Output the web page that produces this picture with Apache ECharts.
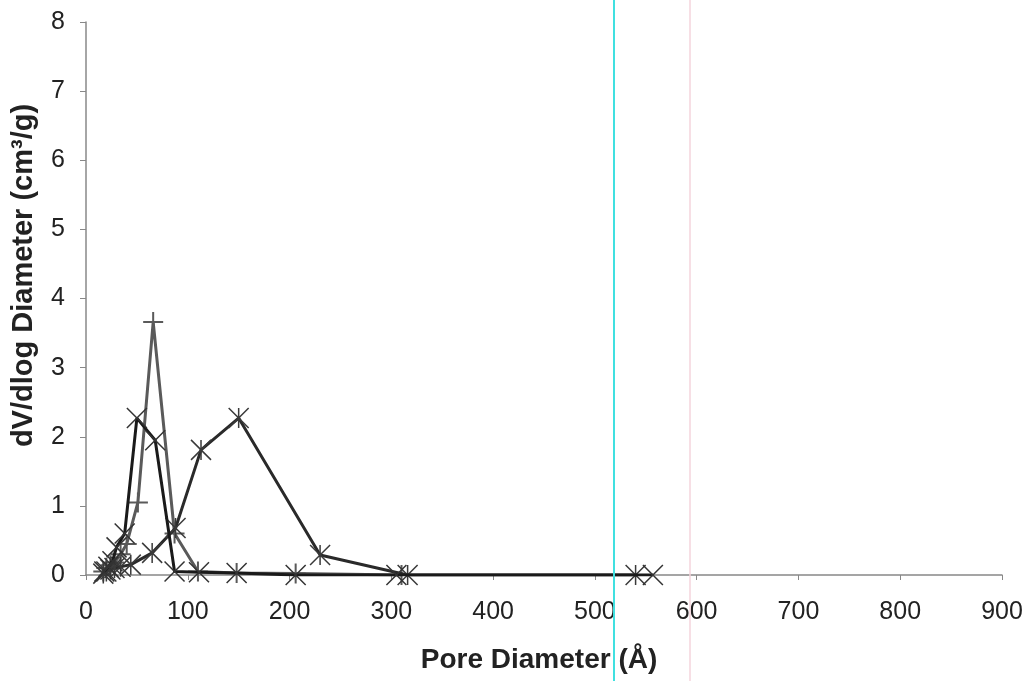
<!DOCTYPE html>
<html>
<head>
<meta charset="utf-8">
<script src="https://cdn.jsdelivr.net/npm/echarts@6/dist/echarts.min.js"></script>
<style>html,body{margin:0;padding:0;background:#fff}#c{width:1035px;height:681px}</style>
</head>
<body>
<div id="c"></div>
<script>
// Series A (x markers)
const xA = [18, 22, 26, 30, 38, 50, 68, 87, 111, 148, 206, 305, 557];
const yA = [0.05, 0.12, 0.2, 0.4, 0.6, 2.27, 1.95, 0.05, 0.04, 0.03, 0.0, 0.0, 0.0];
// Series B (+ markers, grey)
const xB = [17, 20, 24, 28, 34, 40, 51, 66, 87, 110, 148, 206, 310];
const yB = [0.05, 0.1, 0.14, 0.18, 0.3, 0.45, 1.05, 3.66, 0.6, 0.05, 0.03, 0.02, 0.0];
// Series C (star markers)
const xC = [17, 20, 24, 28, 34, 44, 65, 88, 113, 150, 230, 316, 540];
const yC = [0.02, 0.05, 0.08, 0.1, 0.12, 0.15, 0.32, 0.68, 1.81, 2.27, 0.29, 0.0, 0.0];

const yTicks = [0, 1, 2, 3, 4, 5, 6, 7, 8];
const xTicks = [0, 100, 200, 300, 400, 500, 600, 700, 800, 900];

const pairs = (xs, ys) => xs.map((x, i) => [x, ys[i]]);
const symX = 'path://M0 0 L10 10 M10 0 L0 10';
const symPlus = 'path://M0 5 L10 5 M5 0 L5 10';
const symStar = 'path://M0 0 L10 10 M10 0 L0 10 M5 0 L5 10';

const chart = echarts.init(document.getElementById('c'), null, {renderer: 'canvas'});
const font = '"Liberation Sans", Arial, sans-serif';
chart.setOption({
  backgroundColor: '#ffffff',
  animation: false,
  grid: {left: 86, right: 33, top: 22, bottom: 106, containLabel: false},
  xAxis: {
    type: 'value', min: xTicks[0], max: xTicks[xTicks.length - 1], interval: 100,
    name: 'Pore Diameter (Å)', nameLocation: 'middle', nameGap: 71,
    nameTextStyle: {fontFamily: font, fontSize: 28, fontWeight: 'bold', color: '#222', padding: [0, 10, 0, 0]},
    axisLine: {lineStyle: {color: '#888', width: 1.5}},
    axisTick: {show: true, length: 5, lineStyle: {color: '#888'}},
    axisLabel: {fontFamily: font, fontSize: 25, color: '#222', margin: 25},
    splitLine: {show: false}
  },
  yAxis: {
    type: 'value', min: yTicks[0], max: yTicks[yTicks.length - 1], interval: 1,
    name: 'dV/dlog Diameter (cm³/g)', nameLocation: 'middle', nameGap: 48,
    nameTextStyle: {fontFamily: font, fontSize: 29, fontWeight: 'bold', color: '#222', padding: [0, 0, 0, 46]},
    axisLine: {show: true, lineStyle: {color: '#888', width: 1.5}},
    axisTick: {show: true, length: 6, lineStyle: {color: '#888'}},
    axisLabel: {fontFamily: font, fontSize: 25, color: '#222', margin: 21},
    splitLine: {show: false}
  },
  series: [
    {
      type: 'line', data: pairs(xC, yC), symbol: symStar, symbolSize: 20,
      lineStyle: {color: '#2a2a2a', width: 3},
      itemStyle: {color: '#2a2a2a', borderColor: '#3a3a3a', borderWidth: 1.5},
      z: 3
    },
    {
      type: 'line', data: pairs(xB, yB), symbol: symPlus, symbolSize: 20,
      lineStyle: {color: '#5a5a5a', width: 3},
      itemStyle: {color: '#5a5a5a', borderColor: '#5a5a5a', borderWidth: 2},
      z: 2
    },
    {
      type: 'line', data: pairs(xA, yA), symbol: symX, symbolSize: 20,
      lineStyle: {color: '#1a1a1a', width: 3},
      itemStyle: {color: '#1a1a1a', borderColor: '#333', borderWidth: 1.5},
      z: 4
    }
  ],
  graphic: [
    {type: 'line', shape: {x1: 614, y1: 0, x2: 614, y2: 681}, style: {stroke: '#40e0e0', lineWidth: 2}, z: 10},
    {type: 'line', shape: {x1: 690, y1: 0, x2: 690, y2: 681}, style: {stroke: '#f4d4dc', lineWidth: 1.5}, z: 10}
  ]
});
</script>
</body>
</html>
